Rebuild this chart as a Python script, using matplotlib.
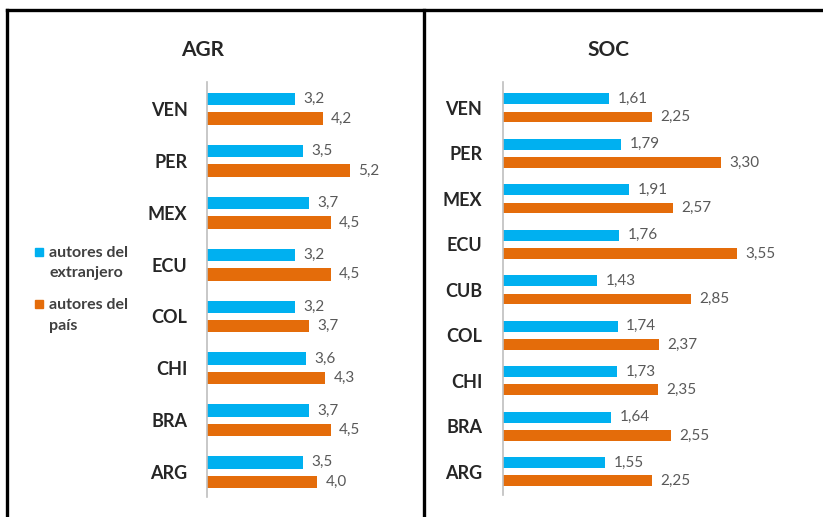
import matplotlib
matplotlib.use("Agg")
import matplotlib.pyplot as plt
import numpy as np
from matplotlib.lines import Line2D
from matplotlib.patches import Rectangle

plt.rcParams['font.family'] = ['Lato', 'DejaVu Sans']

# ---- data ----
agr_categories = ["ARG", "BRA", "CHI", "COL", "ECU", "MEX", "PER", "VEN"]
agr_extranjero = [3.5, 3.7, 3.6, 3.2, 3.2, 3.7, 3.5, 3.2]
agr_pais = [4.0, 4.5, 4.3, 3.7, 4.5, 4.5, 5.2, 4.2]

soc_categories = ["ARG", "BRA", "CHI", "COL", "CUB", "ECU", "MEX", "PER", "VEN"]
soc_extranjero = [1.55, 1.64, 1.73, 1.74, 1.43, 1.76, 1.91, 1.79, 1.61]
soc_pais = [2.25, 2.55, 2.35, 2.37, 2.85, 3.55, 2.57, 3.30, 2.25]

legend_labels = [["autores del", "extranjero"], ["autores del", "país"]]
titles = ["AGR", "SOC"]

BLUE = "#00B0F0"
ORANGE = "#E46C0A"
W, H = 823, 517

fig = plt.figure(figsize=(W / 100, H / 100), dpi=100)


def px_axes(left, top, right, bottom):
    return fig.add_axes([left / W, 1 - bottom / H, (right - left) / W, (bottom - top) / H])


def fmt(v, nd):
    return f"{v:.{nd}f}".replace(".", ",")


def draw(ax, cats, ext, pais, off, h, nd, xmax, ylim, pad):
    y = np.arange(len(cats))
    b1 = ax.barh(y + off, ext, height=h, color=BLUE)
    b2 = ax.barh(y - off, pais, height=h, color=ORANGE)
    ax.bar_label(b1, labels=[fmt(v, nd) for v in ext], padding=6,
                 color="#595959", fontsize=11)
    ax.bar_label(b2, labels=[fmt(v, nd) for v in pais], padding=6,
                 color="#595959", fontsize=11)
    ax.set_xlim(0, xmax)
    ax.set_ylim(*ylim)
    ax.set_yticks(y)
    ax.set_yticklabels(cats, fontweight="bold", fontsize=13, color="#262626")
    ax.tick_params(axis="y", length=0, pad=pad)
    ax.set_xticks([])
    for s in ["top", "right", "bottom"]:
        ax.spines[s].set_visible(False)
    ax.spines["left"].set_color("#BFBFBF")
    ax.spines["left"].set_linewidth(1.2)
    ax.patch.set_alpha(0)


ax1 = px_axes(207, 82, 207 + 7 * 27.5, 497)
draw(ax1, agr_categories, agr_extranjero, agr_pais, 0.1875, 0.24, 1, 7,
     (-0.48, 7.52), 14)

ax2 = px_axes(503, 82, 503 + 4.6 * 66, 495)
draw(ax2, soc_categories, soc_extranjero, soc_pais, 0.2, 0.24, 2, 4.6,
     (-0.51, 8.57), 15)

fig.text(203 / W, 1 - 50 / H, titles[0], ha="center", va="center",
         fontweight="bold", fontsize=15, color="#262626")
fig.text(608 / W, 1 - 50 / H, titles[1], ha="center", va="center",
         fontweight="bold", fontsize=15, color="#262626")

# legend
for (sq_top, col, lines, ys) in [(248, BLUE, legend_labels[0], (253, 273)),
                                  (300, ORANGE, legend_labels[1], (305, 326))]:
    fig.patches.append(Rectangle((35 / W, 1 - (sq_top + 8) / H), 8 / W, 8 / H,
                                 transform=fig.transFigure, color=col))
    for txt, yy in zip(lines, ys):
        fig.text(49 / W, 1 - yy / H, txt, ha="left", va="center",
                 fontweight="bold", fontsize=11.5, color="#404040")

# panel borders
lw = 2.4
fig.add_artist(Line2D([7.5 / W, 1], [1 - 9.5 / H, 1 - 9.5 / H], color="black",
                      lw=lw, transform=fig.transFigure))
fig.add_artist(Line2D([7.5 / W, 7.5 / W], [0, 1 - 9.5 / H], color="black",
                      lw=lw, transform=fig.transFigure))
fig.add_artist(Line2D([423.5 / W, 423.5 / W], [0, 1 - 9.5 / H], color="black",
                      lw=lw, transform=fig.transFigure))

fig.savefig("out.png", dpi=100)
